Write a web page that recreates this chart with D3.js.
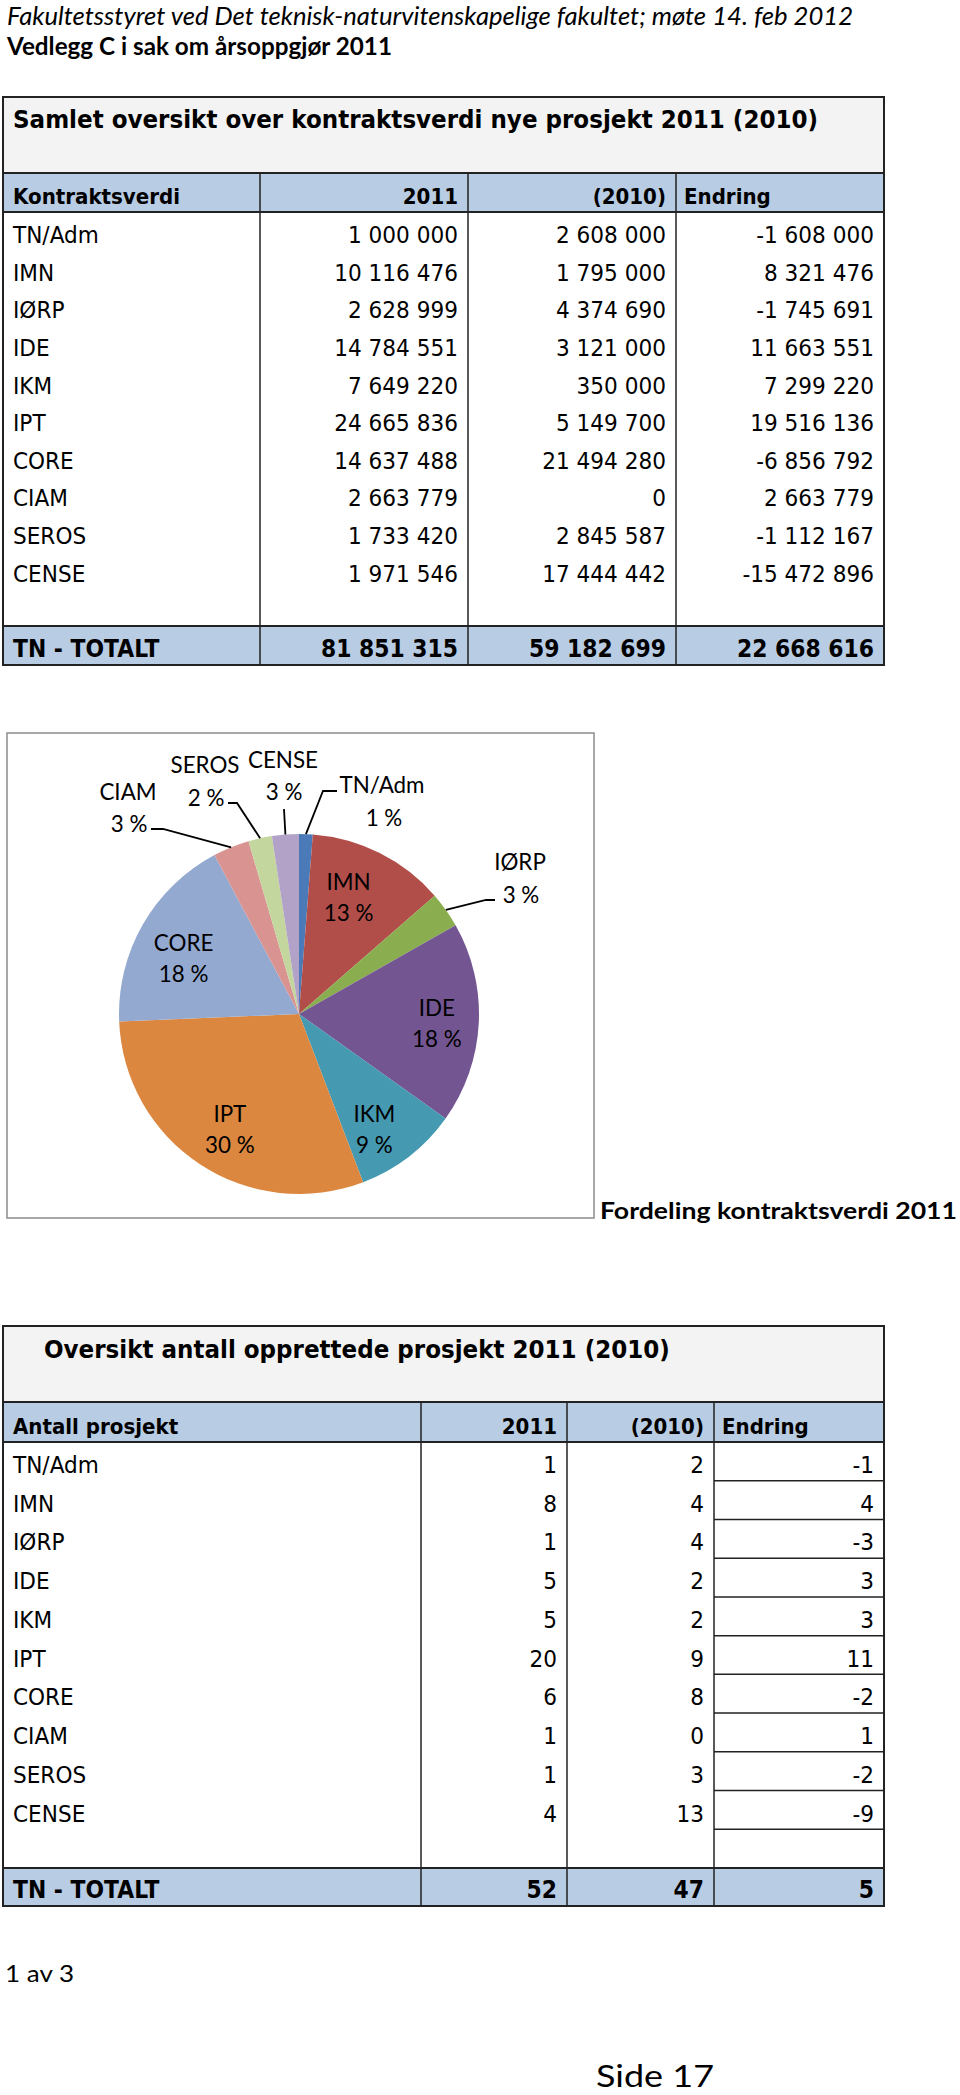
<!DOCTYPE html>
<html><head><meta charset="utf-8">
<script src="https://cdn.jsdelivr.net/npm/d3@7"></script>
<style>body{margin:0;background:#fff}svg{display:block}</style>
</head><body>
<svg id="c" width="960" height="2095"></svg>
<script>
// ---------------- DATA ----------------
const categories = ["TN/Adm","IMN","IØRP","IDE","IKM","IPT","CORE","CIAM","SEROS","CENSE"];
const value2011 = [1000000,10116476,2628999,14784551,7649220,24665836,14637488,2663779,1733420,1971546];
const value2010 = [2608000,1795000,4374690,3121000,350000,5149700,21494280,0,2845587,17444442];
const valueChange = [-1608000,8321476,-1745691,11663551,7299220,19516136,-6856792,2663779,-1112167,-15472896];
const valueTotals = [81851315,59182699,22668616];
const count2011 = [1,8,1,5,5,20,6,1,1,4];
const count2010 = [2,4,4,2,2,9,8,0,3,13];
const countChange = [-1,4,-3,3,3,11,-2,1,-2,-9];
const countTotals = [52,47,5];
const pieLabels = ["1 %","13 %","3 %","18 %","9 %","30 %","18 %","3 %","2 %","3 %"];
const pieColors = ["#4a7ab8","#b24e4a","#8aae4f","#735592","#4599b0","#dc873f","#93a9d0","#d99391","#c3d69e","#b3a2c8"];
const headers1 = ["Kontraktsverdi","2011","(2010)","Endring"];
const headers2 = ["Antall prosjekt","2011","(2010)","Endring"];
const totalLabel = "TN - TOTALT";
const title1 = "Samlet oversikt over kontraktsverdi nye prosjekt 2011 (2010)";
const title2 = "Oversikt antall opprettede prosjekt 2011 (2010)";
const pageHead1 = "Fakultetsstyret ved Det teknisk-naturvitenskapelige fakultet; møte 14. feb 2012";
const pageHead2 = "Vedlegg C i sak om årsoppgjør 2011";
const pieTitle = "Fordeling kontraktsverdi 2011";
const footLeft = "1 av 3";
const footPage = "Side 17";

// ---------------- HELPERS ----------------
const svg = d3.select("#c");
svg.append("rect").attr("width",960).attr("height",2095).attr("fill","#fff");
const loc = d3.formatLocale({decimal:",",thousands:"\u00a0",grouping:[3],currency:["",""],minus:"-"});
const fmt = loc.format(",d");

const styles = {
  head1:{family:"Lato",size:25,style:"italic",weight:400,ref:[pageHead1,846]},
  head2:{family:"Lato",size:25,weight:700,ref:[pageHead2,385]},
  title:{family:"DejaVu Sans",size:25,weight:700,ref:[title1,805]},
  hdr:{family:"DejaVu Sans",size:21,weight:700,ref:["Kontraktsverdi",167]},
  cell:{family:"DejaVu Sans",size:23,weight:400,ref:["1\u00a0000\u00a0000",110]},
  total:{family:"DejaVu Sans",size:24.5,weight:700,ref:["81\u00a0851\u00a0315",137]},
  pie:{family:"Lato",size:22.5,weight:400,ref:["SEROS",69]},
  pieTitle:{family:"Lato",size:23.5,weight:700,ref:[pieTitle,357]},
  foot:{family:"Lato",size:23.5,weight:400,ref:[footLeft,69]},
  side:{family:"Lato",size:31,weight:400,ref:[footPage,118]}
};
function applyStyle(t, s){
  t.attr("font-family",s.family).attr("font-size",s.size).attr("font-weight",s.weight)
   .attr("font-style",s.style||"normal").attr("fill","#000");
}
const tmp = svg.append("g").attr("opacity",0);
Object.values(styles).forEach(s=>{
  const t = tmp.append("text").text(s.ref[0]); applyStyle(t,s);
  s.k = s.ref[1]/t.node().getComputedTextLength();
});
tmp.remove();
function txt(parent,str,x,y,st,anchor){
  const s = styles[st];
  const t = parent.append("text").attr("x",x).attr("y",y).attr("text-anchor",anchor||"start").text(str);
  applyStyle(t,s);
  const w = t.node().getComputedTextLength();
  if (w>0) t.attr("textLength",w*s.k).attr("lengthAdjust","spacingAndGlyphs");
  return t;
}

// ---------------- PAGE HEADER ----------------
txt(svg,pageHead1,7,25,"head1");
txt(svg,pageHead2,7,55,"head2");

// ---------------- TABLE BUILDER ----------------
function table(cfg){
  const g = svg.append("g");
  const n = categories.length;
  const y = d3.scaleBand().domain(d3.range(n+1)).range([cfg.headBottom, cfg.totalTop]).padding(0);
  const x = d3.scaleOrdinal().domain([0,1,2,3,4]).range(cfg.cols);
  const L = cfg.cols[0], R = cfg.cols[4];
  g.append("rect").attr("x",L).attr("y",cfg.top).attr("width",R-L).attr("height",cfg.titleBottom-cfg.top).attr("fill","#f3f3f3");
  g.append("rect").attr("x",L).attr("y",cfg.titleBottom).attr("width",R-L).attr("height",cfg.headBottom-cfg.titleBottom).attr("fill","#b8cce4");
  g.append("rect").attr("x",L).attr("y",cfg.totalTop).attr("width",R-L).attr("height",cfg.bottom-cfg.totalTop).attr("fill","#b8cce4");
  [1,2,3].forEach(i=>{
    g.append("line").attr("x1",x(i)).attr("x2",x(i)).attr("y1",cfg.titleBottom).attr("y2",cfg.bottom)
     .attr("stroke","#222").attr("stroke-width",1.5);
  });
  if (cfg.cellLines){
    d3.range(1,n+1).forEach(i=>{
      g.append("line").attr("x1",x(3)).attr("x2",x(4)).attr("y1",y(i)).attr("y2",y(i))
       .attr("stroke","#222").attr("stroke-width",1.5);
    });
  }
  [cfg.titleBottom,cfg.headBottom,cfg.totalTop].forEach(yy=>{
    g.append("line").attr("x1",L).attr("x2",R).attr("y1",yy).attr("y2",yy).attr("stroke","#222").attr("stroke-width",2);
  });
  g.append("rect").attr("x",L).attr("y",cfg.top).attr("width",R-L).attr("height",cfg.bottom-cfg.top)
   .attr("fill","none").attr("stroke","#222").attr("stroke-width",2);
  txt(g,cfg.title,cfg.titleX,cfg.titleBase,"title");
  const hb = cfg.headBottom-8;
  txt(g,cfg.headers[0],x(0)+10,hb,"hdr");
  txt(g,cfg.headers[1],x(2)-10,hb,"hdr","end");
  txt(g,cfg.headers[2],x(3)-10,hb,"hdr","end");
  txt(g,cfg.headers[3],x(3)+8,hb,"hdr");
  categories.forEach((c,i)=>{
    const b = y(i)+31;
    txt(g,c,x(0)+10,b,"cell");
    txt(g,cfg.fmt(cfg.a[i]),x(2)-10,b,"cell","end");
    txt(g,cfg.fmt(cfg.b[i]),x(3)-10,b,"cell","end");
    txt(g,cfg.fmt(cfg.c[i]),x(4)-10,b,"cell","end");
  });
  const tb = cfg.bottom-8;
  txt(g,totalLabel,x(0)+10,tb,"total");
  txt(g,cfg.fmt(cfg.totals[0]),x(2)-10,tb,"total","end");
  txt(g,cfg.fmt(cfg.totals[1]),x(3)-10,tb,"total","end");
  txt(g,cfg.fmt(cfg.totals[2]),x(4)-10,tb,"total","end");
}

table({cols:[3,260,468,676,884],top:97,titleBottom:173,headBottom:212,totalTop:626,bottom:665,
  title:title1,titleX:13,titleBase:128,headers:headers1,a:value2011,b:value2010,c:valueChange,
  totals:valueTotals,fmt:fmt,cellLines:false});
table({cols:[3,421,567,714,884],top:1326,titleBottom:1402,headBottom:1442,totalTop:1868,bottom:1906,
  title:title2,titleX:44,titleBase:1358,headers:headers2,a:count2011,b:count2010,c:countChange,
  totals:countTotals,fmt:fmt,cellLines:true});

// ---------------- PIE ----------------
svg.append("rect").attr("x",7).attr("y",733).attr("width",587).attr("height",485)
  .attr("fill","#fff").attr("stroke","#8c8c8c").attr("stroke-width",1.5);
const cx=299, cy=1014, R=180;
const pg = svg.append("g").attr("transform",`translate(${cx},${cy})`);
const pie = d3.pie().sort(null).value(d=>d)(value2011);
const arc = d3.arc().innerRadius(0).outerRadius(R);
pg.selectAll("path.sl").data(pie).join("path").attr("class","sl")
  .attr("d",arc).attr("fill",(d,i)=>pieColors[i]);
const labelArc = d3.arc().innerRadius(133).outerRadius(133);
const edgeArc = d3.arc().innerRadius(R).outerRadius(R);
// label layout tweaks (text placement only)
const inside = {"IMN":[-10,2],"IDE":[5,2],"IKM":[-6,10],"IPT":[4,4],"CORE":[0,10]};
const outside = {
  "TN/Adm":{nx:83,ny:-221,px:85,py:-188,path:[[24,-223],[38,-223]]},
  "IØRP":{nx:221,ny:-144,px:222,py:-111,path:[[187,-114],[196,-114]]},
  "CIAM":{nx:-171,ny:-214,px:-170,py:-182,path:[[-136,-185],[-148,-185]]},
  "SEROS":{nx:-94,ny:-241,px:-93,py:-208,path:[[-62,-211],[-71,-211]]},
  "CENSE":{nx:-16,ny:-246,px:-15,py:-214,path:[[-15,-205]]}
};
pie.forEach((d,i)=>{
  const name = categories[i];
  const o = outside[name];
  if (o){
    const e = edgeArc.centroid(d);
    const pts = [e].concat(o.path);
    pg.append("path").attr("d",d3.line()(pts)).attr("fill","none").attr("stroke","#000").attr("stroke-width",1.8);
    txt(pg,name,o.nx,o.ny,"pie","middle");
    txt(pg,pieLabels[i],o.px,o.py,"pie","middle");
  } else {
    const c = labelArc.centroid(d);
    const off = inside[name] || [0,0];
    const lx = c[0]+off[0], ly = c[1]+off[1];
    txt(pg,name,lx,ly-7,"pie","middle");
    txt(pg,pieLabels[i],lx,ly+24,"pie","middle");
  }
});
txt(svg,pieTitle,600,1219,"pieTitle");

// ---------------- FOOTER ----------------
txt(svg,footLeft,5,1982,"foot");
txt(svg,footPage,596,2087,"side");
</script>
</body></html>
